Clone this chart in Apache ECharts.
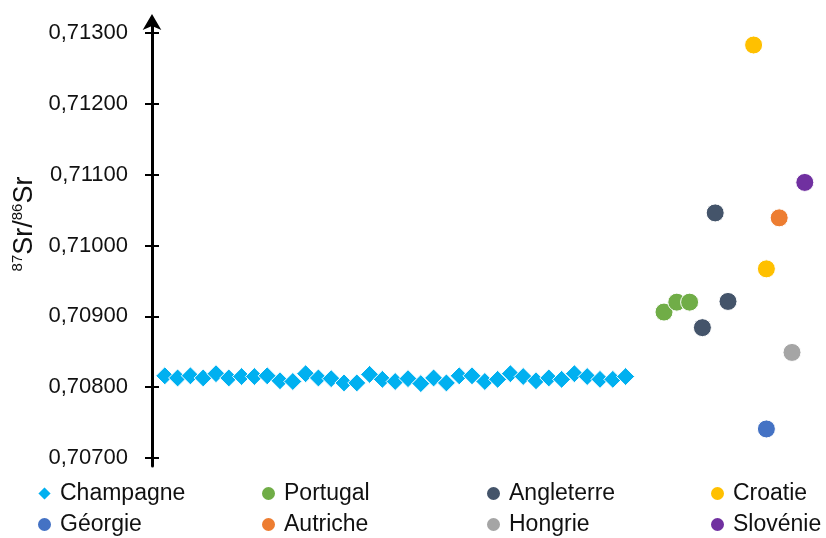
<!DOCTYPE html>
<html>
<head>
<meta charset="utf-8">
<script src="https://cdn.jsdelivr.net/npm/echarts@6/dist/echarts.min.js"></script>
<style>
html,body{margin:0;padding:0;background:#fff;}
#chart{width:826px;height:538px;}
</style>
</head>
<body>
<div id="chart"></div>
<script>
// ---- data ----
var yTicks = [0.707, 0.708, 0.709, 0.710, 0.711, 0.712, 0.713];

var champagneX = [1,2,3,4,5,6,7,8,9,10,11,12,13,14,15,16,17,18,19,20,21,22,23,24,25,26,27,28,29,30,31,32,33,34,35,36,37];
var champagneY = [0.70816,0.70813,0.70816,0.70813,0.70819,0.70813,0.70815,0.70815,0.70816,0.70809,
                  0.70808,0.70819,0.70813,0.70812,0.70806,0.70806,0.70818,0.70811,0.70808,0.70812,
                  0.70805,0.70813,0.70806,0.70816,0.70816,0.70808,0.70811,0.70819,0.70815,0.70809,
                  0.70813,0.70811,0.70819,0.70815,0.70811,0.70811,0.70815];
var portugalX = [40, 41, 42];
var portugalY = [0.70906, 0.70920, 0.70920];
var angleterreX = [43, 44, 45];
var angleterreY = [0.70884, 0.71046, 0.70921];
var croatieX = [47, 48];
var croatieY = [0.71283, 0.70967];
var georgieX = [48];
var georgieY = [0.70741];
var autricheX = [49];
var autricheY = [0.71039];
var hongrieX = [50];
var hongrieY = [0.70849];
var slovenieX = [51];
var slovenieY = [0.71089];

var FONT = "'Liberation Sans', Arial, sans-serif";
var TXT = '#111111';

function pairs(xs, ys) { return xs.map(function (x, i) { return [x, ys[i]]; }); }

function scatter(name, xs, ys, color, symbol, size) {
  return {
    name: name, type: 'scatter', data: pairs(xs, ys),
    symbol: symbol, symbolSize: size,
    itemStyle: { color: color, borderColor: '#ffffff', borderWidth: 1, opacity: 1 },
    emphasis: { disabled: true }
  };
}

function legendItem(left, top, name) {
  return {
    orient: 'horizontal', left: left, top: top, padding: 0,
    data: [name], itemWidth: 15, itemHeight: 15,
    textStyle: { fontFamily: FONT, fontSize: 23, color: TXT, padding: [0, 0, 0, 3] },
    selectedMode: false
  };
}

var chart = echarts.init(document.getElementById('chart'), null, { renderer: 'canvas' });

var yBase = {
  type: 'value', min: 0.706887, max: 0.713183, position: 'left',
  splitLine: { show: false }
};

chart.setOption({
  animation: false,
  backgroundColor: '#ffffff',
  grid: { left: 152, right: 8.4, top: 20, bottom: 72, containLabel: false, outerBoundsMode: 'none' },
  xAxis: { type: 'value', min: 0, max: 52, show: false },
  yAxis: [
    Object.assign({}, yBase, {
      axisLine: { show: true, lineStyle: { color: '#000', width: 3 }, symbol: ['none', 'arrow'], symbolSize: [14, 16], symbolOffset: [0, 6] },
      axisTick: { show: true, length: 7, inside: false, lineStyle: { color: '#000', width: 2 }, customValues: yTicks },
      axisLabel: {
        show: true, margin: 24, customValues: yTicks,
        fontFamily: FONT, fontSize: 22, color: TXT,
        formatter: function (v) { return v.toFixed(5).replace('.', ','); }
      },
      name: '{sup|87}{b|Sr/}{sup|86}{b|Sr}',
      nameLocation: 'middle', nameRotate: 90, nameGap: 97,
      nameTextStyle: {
        padding: [0, 0, 0, 38],
        rich: {
          sup: { fontFamily: FONT, fontSize: 15, color: TXT, verticalAlign: 'top', lineHeight: 28 },
          b: { fontFamily: FONT, fontSize: 27, color: TXT, lineHeight: 28 }
        }
      }
    }),
    Object.assign({}, yBase, {
      axisLine: { show: false },
      axisTick: { show: true, length: 7, inside: true, lineStyle: { color: '#000', width: 2 }, customValues: yTicks },
      axisLabel: { show: false }
    })
  ],
  legend: [
    legendItem(36, 482, 'Champagne'),
    legendItem(36, 513, 'Géorgie'),
    legendItem(260, 482, 'Portugal'),
    legendItem(260, 513, 'Autriche'),
    legendItem(485, 482, 'Angleterre'),
    legendItem(485, 513, 'Hongrie'),
    legendItem(709, 482, 'Croatie'),
    legendItem(709, 513, 'Slovénie')
  ],
  series: [
    scatter('Champagne', champagneX, champagneY, '#00B0F0', 'diamond', 18),
    scatter('Portugal', portugalX, portugalY, '#70AD47', 'circle', 18),
    scatter('Angleterre', angleterreX, angleterreY, '#44546A', 'circle', 18),
    scatter('Croatie', croatieX, croatieY, '#FFC000', 'circle', 18),
    scatter('Géorgie', georgieX, georgieY, '#4472C4', 'circle', 18),
    scatter('Autriche', autricheX, autricheY, '#ED7D31', 'circle', 18),
    scatter('Hongrie', hongrieX, hongrieY, '#A5A5A5', 'circle', 18),
    scatter('Slovénie', slovenieX, slovenieY, '#7030A0', 'circle', 18)
  ]
});
</script>
</body>
</html>
